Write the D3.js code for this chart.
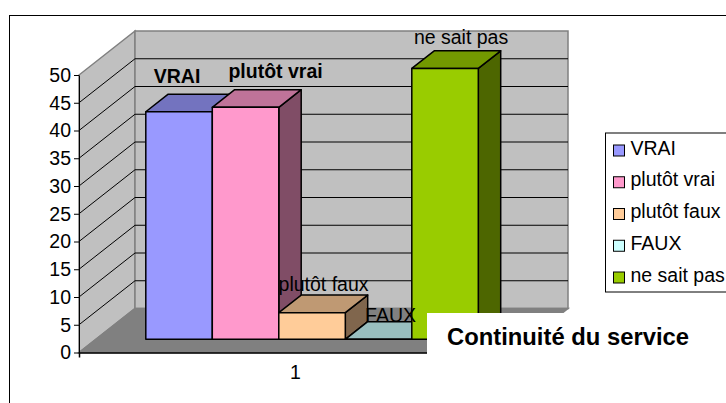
<!DOCTYPE html>
<html>
<head>
<meta charset="utf-8">
<script src="https://cdn.jsdelivr.net/npm/d3@7"></script>
<style>
  html, body { margin: 0; padding: 0; background: #fff; overflow: hidden; }
  svg { display: block; font-family: "Liberation Sans", Arial, sans-serif; fill: #000; }
</style>
</head>
<body>
<div id="chart"></div>
<script>
const categories = ['VRAI', 'plutôt vrai', 'plutôt faux', 'FAUX', 'ne sait pas'];
const values = [41, 41.8, 4.8, 0, 48.8];
const colors = ['#9999ff', '#ff99cc', '#ffcc99', '#ccffff', '#99cc00'];
const boldLabels = ['VRAI', 'plutôt vrai'];
const axisCategory = ['1'];
const yTicks = [0, 5, 10, 15, 20, 25, 30, 35, 40, 45, 50];
const titleText = 'Continuité du service';

const width = 726;
const height = 403;
const fontSize = 19.5;

// label shift from the top back edge of each bar
const labelNudge = [[-2, -11.5], [30, -11.5], [11.5, -4], [12, 0], [16, -7]];

const svg = d3.select('#chart')
  .append('svg')
    .attr('width', width)
    .attr('height', height);

const y = d3.scaleLinear().domain([0, 50]).range([352.5, 75]);
const x = d3.scaleBand().domain(categories).range([129, 461.5]);
const xAxisScale = d3.scaleBand().domain(axisCategory).range([79, 512]);

// depth into the chart: 0 is the front plane, 1 the back wall
const depthX = d3.scaleLinear().domain([0, 1]).range([0, 56]);
const depthY = d3.scaleLinear().domain([0, 1]).range([0, -44]);
const pt = (px, py, d) => [px + depthX(d), py + depthY(d)];
const poly = pts => 'M' + pts.map(p => p.join(',')).join('L') + 'Z';

// chart frame
svg.append('rect')
  .attr('x', 9.5).attr('y', 15.5)
  .attr('width', width + 20).attr('height', height + 20)
  .attr('fill', '#fff').attr('stroke', '#000').attr('stroke-width', 1);

const [x0, x1] = xAxisScale.range();

// walls and floor
const walls = svg.append('g').attr('stroke', '#808080').attr('stroke-width', 1.5);
walls.append('path')
  .attr('fill', '#c0c0c0')
  .attr('d', poly([pt(x0, y(0), 0), pt(x0, y(50), 0), pt(x0, y(50), 1), pt(x0, y(0), 1)]));
walls.append('path')
  .attr('fill', '#c0c0c0')
  .attr('d', poly([pt(x0, y(0), 1), pt(x0, y(50), 1), pt(x1, y(50), 1), pt(x1, y(0), 1)]));
walls.append('path')
  .attr('fill', '#808080')
  .attr('d', poly([pt(x0, y(0), 0), pt(x0, y(0), 1), pt(x1, y(0), 1), pt(x1, y(0), 0)]));

// gridlines across side wall and back wall
svg.append('g')
  .selectAll('path')
  .data(yTicks.filter(t => t > 0 && t < 50))
  .join('path')
    .attr('fill', 'none')
    .attr('stroke', '#000')
    .attr('stroke-width', 1)
    .attr('d', t => d3.line()([pt(x0, y(t), 0), pt(x0, y(t), 1), pt(x1, y(t), 1)]));

// bars
const front = 0.3;
const back = 0.7;
const shade = (c, k) => {
  const r = d3.rgb(c);
  return d3.rgb(r.r * k, r.g * k, r.b * k).formatHex();
};

const bars = svg.append('g')
  .selectAll('g')
  .data(categories)
  .join('g')
    .attr('stroke', '#000')
    .attr('stroke-width', 1.5)
    .attr('stroke-linejoin', 'round');

bars.append('path')
  .attr('fill', (d, i) => shade(colors[i], 0.5))
  .attr('d', (d, i) => {
    const r = x(d) + x.bandwidth();
    return poly([pt(r, y(0), front), pt(r, y(0), back), pt(r, y(values[i]), back), pt(r, y(values[i]), front)]);
  });
bars.append('path')
  .attr('fill', (d, i) => shade(colors[i], 0.75))
  .attr('d', (d, i) => {
    const l = x(d);
    const r = l + x.bandwidth();
    const t = y(values[i]);
    return poly([pt(l, t, front), pt(l, t, back), pt(r, t, back), pt(r, t, front)]);
  });
bars.append('path')
  .attr('fill', (d, i) => colors[i])
  .attr('d', (d, i) => {
    const l = x(d);
    const r = l + x.bandwidth();
    return poly([pt(l, y(0), front), pt(l, y(values[i]), front), pt(r, y(values[i]), front), pt(r, y(0), front)]);
  });

// data labels
svg.append('g')
  .selectAll('text')
  .data(categories)
  .join('text')
    .attr('text-anchor', 'middle')
    .attr('font-size', fontSize)
    .attr('font-weight', d => boldLabels.includes(d) ? 'bold' : 'normal')
    .attr('x', (d, i) => pt(x(d) + x.bandwidth() / 2, 0, front)[0] + labelNudge[i][0])
    .attr('y', (d, i) => pt(0, y(values[i]), back)[1] + labelNudge[i][1])
    .text(d => d);

// axes
const yAxis = svg.append('g')
  .attr('transform', `translate(${x0},0)`)
  .call(d3.axisLeft(y).tickValues(yTicks).tickSize(5).tickSizeOuter(0));
yAxis.selectAll('text').attr('font-size', fontSize).attr('font-family', 'inherit').attr('fill', '#000').attr('x', -8);
yAxis.selectAll('line').attr('stroke', '#000').attr('stroke-width', 1);
yAxis.select('.domain').attr('stroke', '#000').attr('stroke-width', 1);

const xAxis = svg.append('g')
  .attr('transform', `translate(0,${y(0)})`)
  .call(d3.axisBottom(xAxisScale).tickSize(0).tickSizeOuter(5).tickPadding(13));
xAxis.selectAll('text').attr('font-size', fontSize).attr('font-family', 'inherit').attr('fill', '#000');
xAxis.select('.domain').attr('stroke', '#000').attr('stroke-width', 1.5);

// legend
const legend = svg.append('g');
legend.append('rect')
  .attr('x', 605.5).attr('y', 133)
  .attr('width', 140).attr('height', 159)
  .attr('fill', '#fff').attr('stroke', '#000').attr('stroke-width', 1);
const legendY = d3.scalePoint().domain(categories).range([149.5, 276.5]);
const legendItems = legend.selectAll('g')
  .data(categories)
  .join('g')
    .attr('transform', d => `translate(613,${legendY(d)})`);
legendItems.append('rect')
  .attr('x', 0.5).attr('y', -4.5)
  .attr('width', 11).attr('height', 11)
  .attr('fill', (d, i) => colors[i])
  .attr('stroke', '#000').attr('stroke-width', 1);
legendItems.append('text')
  .attr('x', 17.5).attr('y', 5)
  .attr('font-size', fontSize)
  .text(d => d);

// title sits on a white box that hides the corner of the floor
svg.append('rect')
  .attr('x', 427).attr('y', 313)
  .attr('width', 275).attr('height', 45)
  .attr('fill', '#fff');
svg.append('text')
  .attr('x', 447).attr('y', 344.5)
  .attr('font-size', 23.8)
  .attr('font-weight', 'bold')
  .text(titleText);
</script>
</body>
</html>
